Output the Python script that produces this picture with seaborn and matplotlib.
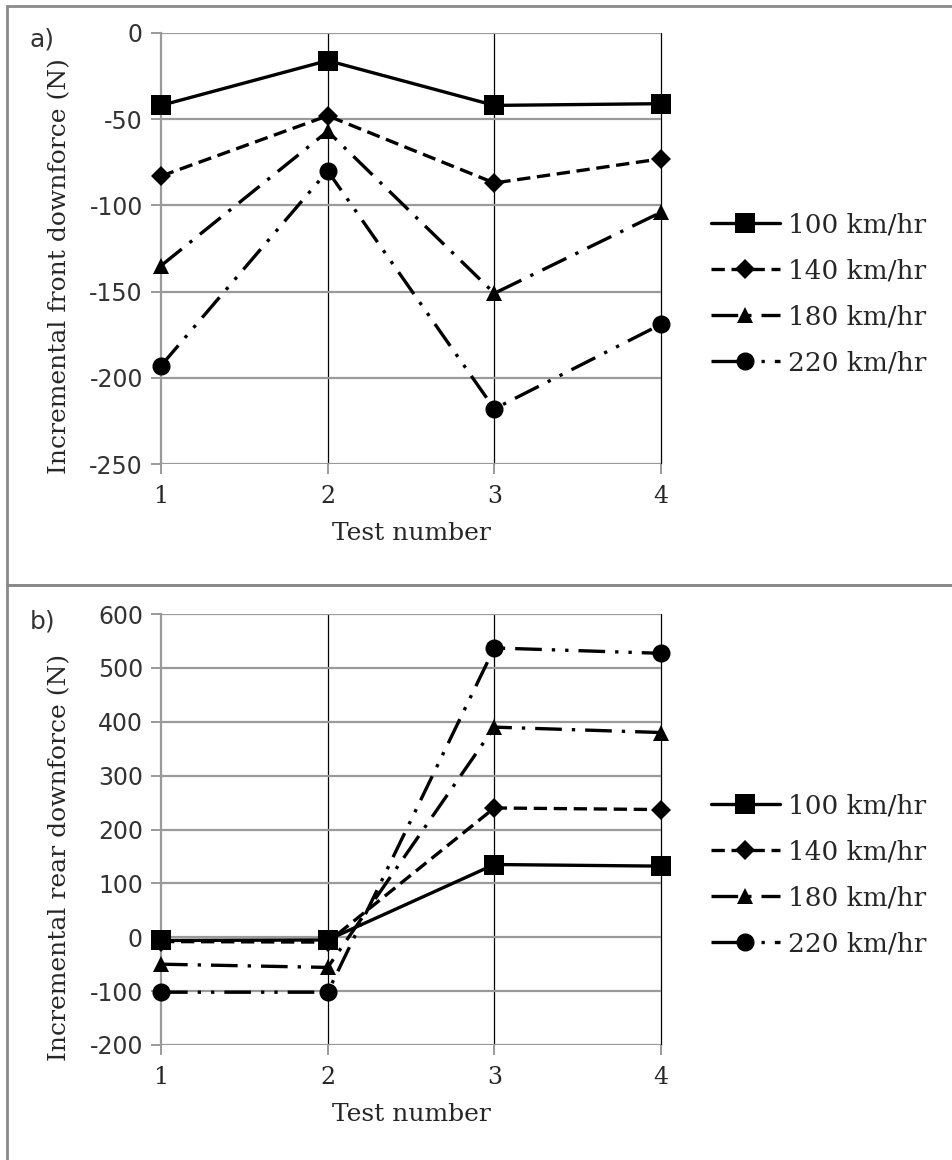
import numpy as np
import pandas as pd
import matplotlib.pyplot as plt
import seaborn as sns
from matplotlib.patches import Rectangle

# data
tests = [1, 2, 3, 4]
speeds = ['100 km/hr', '140 km/hr', '180 km/hr', '220 km/hr']
front_100 = [-42, -16, -42, -41]
front_140 = [-83, -48, -87, -73]
front_180 = [-135, -57, -151, -104]
front_220 = [-193, -80, -218, -169]
rear_100 = [-6, -5, 135, 132]
rear_140 = [-8, -9, 240, 237]
rear_180 = [-50, -56, 390, 380]
rear_220 = [-102, -102, 537, 527]

front = [front_100, front_140, front_180, front_220]
rear = [rear_100, rear_140, rear_180, rear_220]

# Excel-like line/marker styles
markers = ['s', 'D', '^', 'o']
msizes = [14, 10, 12, 13]
linestyles = ['-', (0, (4, 2)), (0, (8, 3, 1, 3)), (0, (8, 3, 1, 3, 1, 3))]

sns.set_style("white")
plt.rcParams['font.family'] = ['DejaVu Serif']
plt.rcParams['axes.unicode_minus'] = False

W, H = 953, 1160
fig = plt.figure(figsize=(W / 100, H / 100), dpi=100)


def px_axes(left, right, top, bottom):
    return fig.add_axes([left / W, 1 - bottom / H, (right - left) / W, (bottom - top) / H])


def draw_panel(ax, series, ylim, step, ylabel, label_y):
    for vals, lab, m, ms, ls in zip(series, speeds, markers, msizes, linestyles):
        df = pd.DataFrame({'test': tests, 'force': vals})
        sns.lineplot(data=df, x='test', y='force', ax=ax, color='black', lw=2.4,
                     linestyle=ls, marker=m, markersize=ms, markeredgewidth=0,
                     label=lab, clip_on=False, zorder=3)
    ax.set_xlim(1, 4)
    ax.set_ylim(*ylim)
    ax.set_yticks(np.arange(ylim[0], ylim[1] + 1, step))
    ax.set_xticks(tests)
    ax.grid(axis='y', color='#9a9a9a', lw=1.6)
    for x in tests[1:]:
        ax.axvline(x, color='black', lw=0.9, zorder=0.5, clip_on=False)
    for s in ['top', 'right', 'bottom']:
        ax.spines[s].set_visible(False)
    ax.spines['left'].set_color('#9a9a9a')
    ax.spines['left'].set_linewidth(1.6)
    ax.tick_params(axis='both', direction='out', length=7, width=1.4, color='#9a9a9a',
                   left=True, bottom=True)
    ax.tick_params(axis='y', labelsize=17, pad=6)
    ax.tick_params(axis='x', labelsize=17, pad=8)
    for t in ax.get_yticklabels():
        t.set_family('DejaVu Sans')
        t.set_color('#333333')
    ax.set_xlabel('Test number', fontsize=18, labelpad=10)
    ax.set_ylabel(ylabel, fontsize=18)
    ax.yaxis.set_label_coords(-0.18, label_y)
    ax.legend(loc='center left', bbox_to_anchor=(1.1, 0.395), frameon=False,
              fontsize=19, handlelength=2.6, handletextpad=0.3, labelspacing=0.8,
              borderpad=0, borderaxespad=0)


ax1 = px_axes(161, 661, 33, 464)
draw_panel(ax1, front, (-250, 0), 50, 'Incremental front downforce (N)', 0.46)
ax2 = px_axes(161, 661, 614, 1045)
draw_panel(ax2, rear, (-200, 600), 100, 'Incremental rear downforce (N)', 0.435)

# panel frames
fig.add_artist(Rectangle((7 / W, 1 - 585 / H), 1.1, (585 - 6) / H, transform=fig.transFigure,
                         fill=False, edgecolor='#8a8a8a', lw=2))
fig.add_artist(Rectangle((7 / W, -0.1), 1.1, 0.1 + (1160 - 585) / H, transform=fig.transFigure,
                         fill=False, edgecolor='#8a8a8a', lw=2))
fig.text(30 / W, 1 - 39 / H, 'a)', fontsize=18, family='DejaVu Sans', va='center', color='#333333')
fig.text(30 / W, 1 - 621 / H, 'b)', fontsize=18, family='DejaVu Sans', va='center', color='#333333')

plt.savefig("out.png", dpi=100)
